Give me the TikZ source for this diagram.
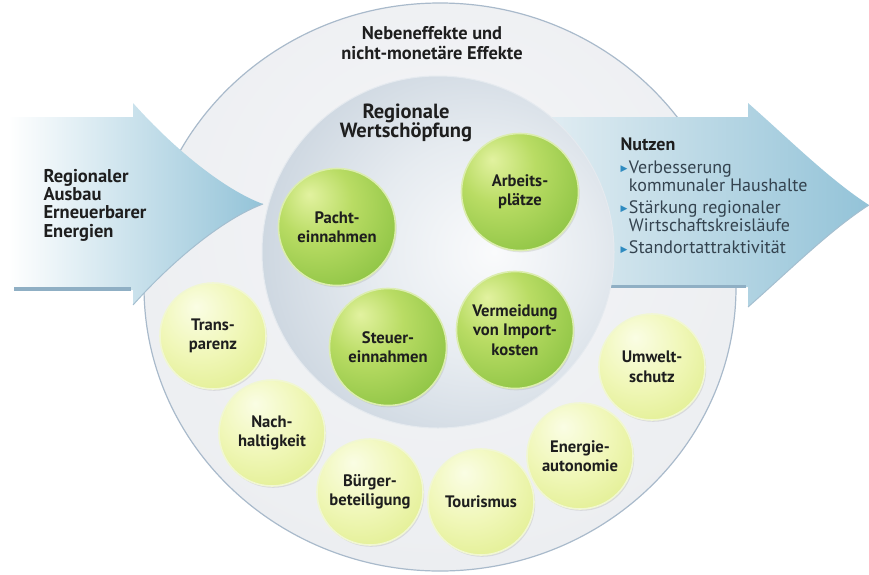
\documentclass[tikz,border=0pt]{standalone}
\usepackage{fontspec}
\setmainfont{PT Sans}
\newfontfamily\symfont{DejaVu Sans}
\usetikzlibrary{shadows}

\definecolor{txt}{HTML}{1E1E1E}
\definecolor{nutztxt}{HTML}{34434F}
\definecolor{bulblue}{HTML}{2E8BC0}
\definecolor{ringedge}{HTML}{A9BACB}
\definecolor{arrowedge}{HTML}{8FAFC4}
\definecolor{arrowblue}{HTML}{93C3D8}
\definecolor{arrowmid}{HTML}{CFE5EE}
\definecolor{arrowlight}{HTML}{E7F0F4}
\definecolor{grim}{HTML}{DCEDB0}
\definecolor{yrim}{HTML}{F1F7D2}
\definecolor{gA}{HTML}{E2F2A0}
\definecolor{gB}{HTML}{B9DC64}
\definecolor{gC}{HTML}{8CC343}
\definecolor{gD}{HTML}{62A02A}
\definecolor{yA}{HTML}{FAFDE4}
\definecolor{yB}{HTML}{F0F7B8}
\definecolor{yC}{HTML}{DCEB82}
\definecolor{yD}{HTML}{CDE068}
\definecolor{iA}{HTML}{FAFBFC}
\definecolor{iB}{HTML}{E6EBF0}
\definecolor{iC}{HTML}{C6D1DC}
\definecolor{iD}{HTML}{A3B3C4}
\definecolor{rA}{HTML}{F4F5F7}
\definecolor{rB}{HTML}{ECEEF1}
\definecolor{rC}{HTML}{DCE1E8}

\pgfdeclareradialshading{greenball}{\pgfpoint{-12bp}{14bp}}{%
  color(0bp)=(gA); color(16bp)=(gB); color(38bp)=(gC);
  color(58bp)=(gD); color(80bp)=(gD)}
\pgfdeclareradialshading{yellowball}{\pgfpoint{-8bp}{14bp}}{%
  color(0bp)=(yA); color(20bp)=(yB); color(45bp)=(yC);
  color(62bp)=(yD); color(80bp)=(yD)}
\pgfdeclareradialshading{innershade}{\pgfpoint{8bp}{0bp}}{%
  color(0bp)=(iA); color(16bp)=(iB); color(34bp)=(iC);
  color(50bp)=(iD); color(70bp)=(iD)}
\pgfdeclareradialshading{ringshade}{\pgfpoint{0bp}{8bp}}{%
  color(0bp)=(rA); color(30bp)=(rB); color(50bp)=(rC);
  color(70bp)=(rC)}

\tikzset{
  x=1pt, y=-1pt,
  lbl/.style={font=\bfseries\fontsize{18.4}{20}\selectfont, align=center, text=txt},
  ballbase/.style={circle, inner sep=0pt, line width=1.6pt, align=center,
    font=\bfseries\fontsize{16.6}{19.5}\selectfont, text=txt,
    drop shadow={opacity=0.18, shadow xshift=1.2pt, shadow yshift=-1.8pt}},
  gball/.style={ballbase, minimum size=117pt, shading=greenball, draw=grim},
  yball/.style={ballbase, minimum size=106pt, shading=yellowball, draw=yrim},
}
\newcommand\bul{\raisebox{1.6pt}{\symfont\fontsize{9}{9}\selectfont\textcolor{bulblue}{▶}}\hspace{1.5pt}}

\begin{document}
\begin{tikzpicture}
\useasboundingbox (0,0) rectangle (869,574);

% outer ring
\path[shading=ringshade, draw=ringedge, line width=1.2pt]
  (440,287) ellipse [x radius=296pt, y radius=284pt];
\coordinate (ring) at (440,287);

% left arrow
\shade[left color=white, middle color=arrowmid, right color=arrowblue]
  (8,117) -- (133,117) -- (133,103)
  .. controls (175,150) and (225,190) .. (263,204)
  .. controls (225,218) and (175,258) .. (133,305)
  -- (133,290) -- (8,290) -- cycle;
\coordinate (larrow) at (263,204);
\draw[arrowedge, line width=4pt] (14,289) -- (131,289);
\draw[arrowedge!80, line width=1pt] (263,204) .. controls (225,218) and (175,258) .. (133,305);

% right arrow (beneath inner circle)
\shade[left color=arrowlight, right color=arrowblue]
  (520,117) -- (748,117) -- (748,103)
  .. controls (790,140) and (830,180) .. (869,205)
  .. controls (830,230) and (790,270) .. (748,307)
  -- (748,287) -- (520,287) -- cycle;
\coordinate (rarrow) at (869,205);
\draw[arrowedge, line width=3pt] (560,286) -- (746,286);
\draw[arrowedge!80, line width=1pt] (869,205) .. controls (830,230) and (790,270) .. (748,307);

% inner circle
\path[shading=innershade, draw=white!70!ringedge, line width=1pt]
  (438,252) circle [radius=176pt];
\coordinate (inner) at (438,252);

% titles
\node[lbl] (neben) at (432,43) {Nebeneffekte und\\nicht-monetäre Effekte};
\node[lbl, font=\bfseries\fontsize{20.5}{19.5}\selectfont] (rw) at (406,123) {Regionale\\Wertschöpfung};
\node[lbl, align=left, anchor=west, font=\bfseries\fontsize{18.5}{18.3}\selectfont] (reg) at (40,205)
  {Regionaler\\Ausbau\\Erneuerbarer\\Energien};

% Nutzen
\node[anchor=north west, align=left, text=nutztxt,
      font=\fontsize{18}{18.3}\selectfont] (nutzen) at (617,134)
  {{\bfseries\color{txt}Nutzen}\\[5pt]
   \bul Verbesserung\\
   \hphantom{\bul}kommunaler Haushalte\\[3pt]
   \bul Stärkung regionaler\\
   \hphantom{\bul}Wirtschaftskreisläufe\\[4pt]
   \bul Standortattraktivität};

% green balls
\node[gball] (pacht) at (337,227) {Pacht-\\einnahmen};
\node[gball] (arbeit) at (520,192) {Arbeits-\\plätze};
\node[gball] (steuer) at (388,347) {Steuer-\\einnahmen};
\node[gball] (import) at (515,330) {Vermeidung\\von Import-\\kosten};

% yellow balls
\node[yball] (transp) at (213,336) {Trans-\\parenz};
\node[yball] (nach) at (272,433) {Nach-\\haltigkeit};
\node[yball] (buerger) at (370,492) {Bürger-\\beteiligung};
\node[yball] (tour) at (481,502) {Tourismus};
\node[yball] (energie) at (580,456) {Energie-\\autonomie};
\node[yball] (umwelt) at (652,367) {Umwelt-\\schutz};
\end{tikzpicture}
\end{document}
